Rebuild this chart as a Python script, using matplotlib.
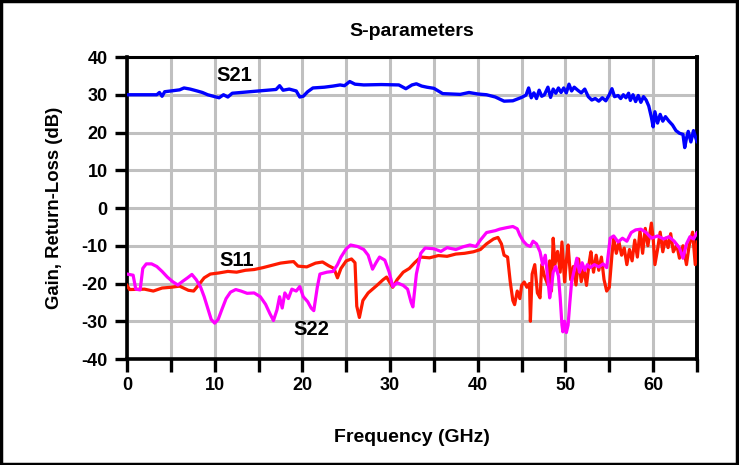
import matplotlib
matplotlib.use("Agg")
import matplotlib.pyplot as plt
from matplotlib.patches import Rectangle

plt.rcParams['font.family'] = ['Liberation Sans', 'DejaVu Sans']

title = "S-parameters"
xlabel = "Frequency (GHz)"
ylabel = "Gain, Return-Loss (dB)"
x_ticks = [0, 5, 10, 15, 20, 25, 30, 35, 40, 45, 50, 55, 60, 65]
x_ticklabels = ["0", "", "10", "", "20", "", "30", "", "40", "", "50", "", "60", ""]
y_ticks = [-40, -30, -20, -10, 0, 10, 20, 30, 40]
y_ticklabels = ["-40", "-30", "-20", "-10", "0", "10", "20", "30", "40"]

s21_f = [0, 3.4, 3.7, 4.0, 4.3, 5.0, 6.0, 6.5, 7.2, 8.0, 8.6, 9.2, 10.0, 10.5, 11.0, 11.5,
         12.0, 13.0, 14.0, 15.0, 16.0, 17.0, 17.4, 17.8, 18.5, 19.3, 19.7, 20.1, 20.6, 21.2,
         22.5, 23.5, 24.3, 24.8, 25.4, 26.0, 27.0, 29.0, 31.0, 31.8, 32.5, 33.0, 33.6, 34.2,
         35.0, 36.0, 37.0, 38.0, 39.0, 40.0, 41.0, 42.0, 43.0, 44.0,
         45.0, 45.5, 45.8, 46.1, 46.4, 46.7, 47.0, 47.3, 47.6, 48.0, 48.3, 48.6, 48.9, 49.2,
         49.5, 49.8, 50.1, 50.4, 50.7, 51.0, 51.4, 51.8, 52.2, 52.6, 53.0, 53.4, 53.8, 54.2,
         54.6, 55.0, 55.3, 55.6, 56.0, 56.3, 56.6, 56.9, 57.2, 57.4, 57.7, 58.0, 58.3, 58.6,
         58.9, 59.2, 59.5, 59.8, 60.0, 60.2, 60.5, 60.8, 61.1, 61.4, 61.8, 62.2, 62.6, 63.0,
         63.4, 63.6, 63.8, 64.0, 64.3, 64.6, 64.8, 65.0]
s21_db = [30, 30, 30.6, 29.6, 30.8, 31.0, 31.3, 31.8, 31.5, 31.0, 30.6, 30.0, 29.5, 29.2, 30.0, 29.4,
          30.4, 30.6, 30.8, 31.0, 31.2, 31.4, 32.4, 31.2, 31.5, 31.0, 29.4, 29.6, 30.8, 31.8,
          32.0, 32.3, 32.6, 32.4, 33.5, 32.8, 32.6, 32.7, 32.6, 31.6, 32.6, 32.9, 32.3, 32.0,
          31.7, 30.3, 30.2, 30.1, 30.6, 30.2, 30.0, 29.4, 28.3, 28.4,
          29.3, 29.9, 31.8, 29.2, 30.5, 29.0, 31.2, 29.6, 30.0, 32.0, 29.3, 31.5, 30.4, 31.8,
          30.6, 31.8, 30.5, 32.8, 31.0, 32.0, 31.2, 30.5, 31.5, 29.5, 28.6, 29.0, 28.3, 29.2,
          28.4, 30.0, 31.6, 29.5, 29.8, 29.0, 30.0, 29.2, 30.4, 28.5, 30.0, 28.2, 29.8, 28.0,
          29.5, 28.6, 27.0, 24.0, 21.5, 25.5, 22.5, 24.8, 23.0, 24.2, 23.0, 22.0, 20.5, 19.8,
          19.5, 16.0, 18.5, 20.3, 17.5, 20.5, 19.0, 17.6]

s11_f = [0, 0.3, 2, 3, 4, 5, 6, 7, 7.6, 8.2, 8.8, 9.5, 10.5, 11.5, 12.5, 13.5, 14.5, 15.5, 16.5,
         17.5, 18.5, 19.0, 19.5, 20.5, 21.5, 22.3, 23.0, 23.6, 24.0, 24.4, 25.0, 25.6, 26.0, 26.2,
         26.5, 26.9, 27.5, 28.0, 28.5, 29.2, 29.6, 30.3, 30.8, 31.5, 32.2, 32.8, 33.5, 34.5, 35.5,
         36.5, 37.5, 38.5, 39.5, 40.3, 41.0, 41.8,
         42.3, 42.7, 43.0, 43.4, 43.7, 44.0, 44.2, 44.5, 44.8, 45.0, 45.3, 45.6, 45.9, 46.0,
         46.2, 46.5, 46.8, 47.1, 47.3, 47.6, 48.0, 48.2, 48.4, 48.6, 48.8, 49.1, 49.4, 49.6,
         49.9, 50.1, 50.3, 50.6, 50.9, 51.2, 51.5, 51.8, 52.1, 52.4, 52.7, 52.9, 53.2, 53.5,
         53.8, 54.1, 54.4, 54.7, 55.0, 55.3, 55.5, 55.8, 56.1, 56.4, 56.7, 57.0, 57.3, 57.6,
         57.9, 58.2, 58.5, 58.8, 59.1, 59.4, 59.8, 60.0, 60.2, 60.5, 60.8, 61.1, 61.4, 61.7,
         62.0, 62.3, 62.7, 63.0, 63.4, 63.8, 64.1, 64.5, 64.8, 65.0]
s11_db = [-20.5, -21.6, -21.5, -22.0, -21.2, -21.0, -20.7, -21.8, -22.0, -20.3, -18.5, -17.5, -17.2,
          -16.8, -17.0, -16.5, -16.3, -15.8, -15.2, -14.6, -14.3, -14.2, -15.4, -15.6, -14.6, -14.3,
          -15.3, -16.0, -18.5, -16.0, -14.0, -13.5, -14.5, -26.0, -29.0, -24.5, -22.5, -21.5, -20.5,
          -19.0, -18.3, -21.0, -19.0, -17.0, -16.0, -14.5, -13.0, -13.2, -12.6, -12.8, -12.2, -12.0,
          -11.6, -11.0, -9.5, -8.2,
          -7.8, -9.5, -12.5, -13.0, -19.5, -24.5, -25.6, -22.0, -24.0, -20.5, -19.6, -21.0, -20.0, -30.0,
          -17.5, -15.0, -22.5, -23.8, -15.0, -18.0, -20.4, -14.0, -22.0, -8.0, -15.0, -11.5, -17.0, -9.0,
          -19.6, -14.0, -9.8, -19.0, -15.5, -20.4, -13.5, -19.5, -16.0, -20.5, -14.5, -11.6, -17.0, -12.5,
          -16.5, -13.0, -19.0, -22.0, -21.0, -12.5, -8.0, -12.0, -9.0, -12.5, -10.6, -15.0, -11.0, -14.0,
          -8.5, -13.0, -6.0, -12.0, -5.4, -10.0, -4.0, -8.0, -15.0, -11.0, -6.4, -11.6, -8.0, -10.5,
          -6.8, -11.6, -9.8, -13.3, -10.0, -15.0, -10.0, -6.4, -15.0, -9.0]

s22_f = [0, 0.7, 1.0, 1.5, 1.8, 2.2, 2.8, 3.4, 4.0, 4.6, 5.2, 5.8, 6.3, 6.9, 7.4, 7.9, 8.4, 8.8,
         9.2, 9.6, 10.0, 10.4, 10.8, 11.3, 11.8, 12.4, 13.0, 13.7, 14.5, 15.2, 15.8, 16.3, 16.7,
         17.1, 17.4, 17.7, 18.0, 18.4, 18.8, 19.3, 19.7, 20.1, 20.6, 21.0, 21.3, 21.7, 22.0, 22.8,
         23.5, 24.0, 24.4, 25.0, 25.5, 26.3, 27.0, 27.5, 28.0, 28.4, 28.8, 29.4, 29.9, 30.3, 30.8,
         31.5, 32.0, 32.4, 32.6, 33.0, 33.5, 34.0, 35.0, 35.8, 36.5, 37.5, 38.3, 39.1, 39.8, 40.3,
         41.0, 42.0, 42.5, 43.3,
         44.0, 44.5, 44.8, 45.2, 45.6, 46.0, 46.3, 46.7, 47.1, 47.4, 47.7, 48.0, 48.2, 48.4,
         48.6, 48.9, 49.2, 49.4, 49.6, 49.7, 49.9, 50.1, 50.3, 50.5, 50.7, 51.0, 51.3, 51.6,
         51.9, 52.2, 52.5, 52.8, 53.3, 53.8, 54.3, 54.7, 55.1, 55.5, 56.0, 56.5, 57.0, 57.5,
         58.0, 58.6, 59.2, 59.8, 60.5, 61.2, 61.8, 62.4, 63.0, 63.4, 63.8, 64.2, 64.6, 65.0]
s22_db = [-17.5, -17.8, -21.5, -21.7, -16.0, -14.8, -14.8, -15.5, -16.8, -18.3, -19.5, -20.4, -19.5,
          -18.5, -17.6, -19.0, -21.0, -23.5, -26.5, -29.5, -30.5, -29.5, -27.0, -24.0, -22.3, -21.6,
          -22.0, -22.6, -22.5, -23.5, -25.5, -28.0, -29.8, -27.0, -23.5, -26.5, -22.5, -24.0, -21.5,
          -22.0, -20.8, -23.5, -24.8, -26.5, -27.2, -21.0, -17.5, -17.0, -16.8, -15.0, -13.0, -10.8,
          -9.8, -10.2, -11.0, -12.5, -16.2, -14.5, -13.0, -13.8, -17.0, -20.8, -19.8, -20.5, -21.5,
          -25.0, -26.2, -17.5, -12.0, -10.6, -10.8, -11.5, -10.5, -11.0, -10.3, -9.8, -10.2, -8.5,
          -6.5, -6.0, -5.6, -5.2,
          -4.9, -5.5, -7.2, -8.8, -9.8, -10.2, -8.8, -9.5, -11.6, -15.0, -12.5, -19.0, -23.8, -21.0,
          -17.0, -15.5, -18.0, -23.8, -31.0, -32.8, -30.0, -33.0, -31.0, -25.0, -19.6, -16.5, -13.3, -17.0,
          -14.5, -16.5, -15.0, -15.8, -15.0, -15.6, -14.8, -15.8, -8.0, -7.4, -9.0, -8.0, -8.8, -6.5,
          -5.8, -5.6, -6.5, -8.0, -7.4, -8.2, -7.6, -8.8, -10.6, -13.3, -9.5, -7.6, -8.2, -6.6]

fig = plt.figure(figsize=(7.39, 4.65), dpi=100)
ax = fig.add_axes([127/739, 1 - 359/465, 570/739, 302/465])

ax.plot(s11_f, s11_db, color='#ff1a00', lw=2.3, zorder=3)
ax.plot(s22_f, s22_db, color='#ff00ff', lw=2.3, zorder=3)
ax.plot(s21_f, s21_db, color='#0000ff', lw=2.4, zorder=4)

ax.set_xlim(0, 65)
ax.set_ylim(-40, 40)
ax.set_xticks(x_ticks)
ax.set_xticklabels(x_ticklabels)
ax.set_yticks(y_ticks)
ax.set_yticklabels(y_ticklabels)
ax.grid(True, color='#c0c0c0', lw=2.2, zorder=0)
ax.set_axisbelow(True)

for t in ax.get_xticklabels() + ax.get_yticklabels():
    t.set_fontweight('bold')
    t.set_fontsize(13)
ax.tick_params(axis='x', direction='out', length=9, width=2.4, pad=4)
ax.tick_params(axis='y', direction='out', length=9, width=2.4, pad=5)

ax.spines['left'].set_linewidth(2.6)
ax.spines['bottom'].set_linewidth(2.6)
ax.spines['right'].set_linewidth(2.8)
ax.spines['top'].set_linewidth(2.2)

ax.set_xlabel(xlabel, fontsize=14, fontweight='bold', labelpad=25)
ax.set_ylabel(ylabel, fontsize=13.3, fontweight='bold', labelpad=13)
ax.set_title(title, fontsize=14, fontweight='bold', pad=15)

ax.text(12.2, 35.1, "S21", fontsize=14.5, fontweight='bold', ha='center', va='center')
ax.text(12.5, -13.8, "S11", fontsize=14.5, fontweight='bold', ha='center', va='center')
ax.text(21.0, -32.3, "S22", fontsize=14.5, fontweight='bold', ha='center', va='center')

fig.patches.append(Rectangle((0.002, 0.003), 0.995, 0.994, transform=fig.transFigure,
                             fill=False, edgecolor='black', lw=2.5))

fig.savefig("out.png", dpi=100)
